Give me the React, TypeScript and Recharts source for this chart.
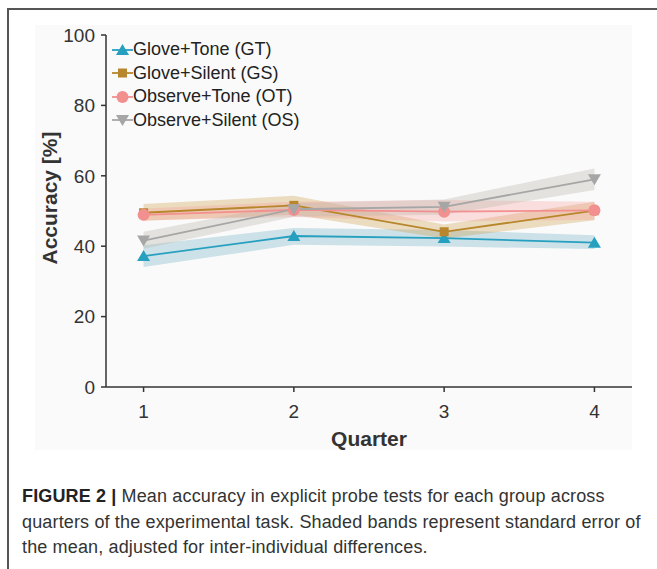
import { ComposedChart, Line, Area, XAxis, YAxis } from 'recharts';

// quarters of the task
const quarters = [1, 2, 3, 4];

// Glove+Tone (GT)
const gtMean = [37.2, 42.9, 42.3, 41.0];
const gtLow = [34.1, 40.4, 39.9, 39.2];
const gtHigh = [40.3, 45.2, 44.6, 43.1];

// Glove+Silent (GS)
const gsMean = [49.5, 51.6, 44.1, 50.1];
const gsLow = [47.2, 48.9, 42.2, 47.4];
const gsHigh = [52.0, 54.3, 46.2, 52.6];

// Observe+Tone (OT)
const otMean = [48.9, 50.3, 49.8, 50.2];
const otLow = [47.3, 48.3, 47.0, 47.5];
const otHigh = [50.7, 52.6, 53.1, 52.6];

// Observe+Silent (OS)
const osMean = [41.6, 50.5, 51.2, 59.0];
const osLow = [39.3, 48.4, 48.9, 56.0];
const osHigh = [44.1, 52.3, 53.3, 62.1];

const yTicks = [0, 20, 40, 60, 80, 100];

const groups = [
  { key: 'gt', name: 'Glove+Tone (GT)', color: '#27a0c0', band: 'rgba(40,135,170,0.22)', marker: 'up' },
  { key: 'gs', name: 'Glove+Silent (GS)', color: '#b8862c', band: 'rgba(205,160,80,0.35)', marker: 'square' },
  { key: 'ot', name: 'Observe+Tone (OT)', color: '#f28f8f', band: 'rgba(250,150,150,0.28)', marker: 'circle' },
  { key: 'os', name: 'Observe+Silent (OS)', color: '#a6a6a6', band: 'rgba(185,180,170,0.35)', marker: 'down' },
];

const data = quarters.map((q, i) => ({
  q,
  gt: gtMean[i],
  gtBand: [gtLow[i], gtHigh[i]],
  gs: gsMean[i],
  gsBand: [gsLow[i], gsHigh[i]],
  ot: otMean[i],
  otBand: [otLow[i], otHigh[i]],
  os: osMean[i],
  osBand: [osLow[i], osHigh[i]],
}));

const FONT = 'Arial, "Liberation Sans", Helvetica, sans-serif';

function Marker({ type, cx, cy, color }: { type: string; cx: number; cy: number; color: string }) {
  if (type === 'up') {
    return <polygon points={`${cx - 6.5},${cy + 5} ${cx + 6.5},${cy + 5} ${cx},${cy - 6}`} fill={color} />;
  }
  if (type === 'down') {
    return <polygon points={`${cx - 6.5},${cy - 5} ${cx + 6.5},${cy - 5} ${cx},${cy + 6}`} fill={color} />;
  }
  if (type === 'square') {
    return <rect x={cx - 4.5} y={cy - 4.5} width={9} height={9} fill={color} />;
  }
  return <circle cx={cx} cy={cy} r={6} fill={color} />;
}

function LegendBox() {
  return (
    <div style={{ position: 'absolute', left: 112, top: 38, fontFamily: FONT, fontSize: 18, color: '#222' }}>
      {groups.map((g) => (
        <div key={g.key} style={{ display: 'flex', alignItems: 'center', height: 23.5 }}>
          <svg width={21} height={16} style={{ marginRight: 0 }}>
            <line x1={0} y1={8} x2={21} y2={8} stroke={g.color} strokeWidth={1.8} />
            <Marker type={g.marker} cx={10.5} cy={8} color={g.color} />
          </svg>
          <span>{g.name}</span>
        </div>
      ))}
    </div>
  );
}

// y axis title, sitting a little above the middle of the axis like the original
function YTitle({ viewBox }: any) {
  const x = 49;
  const y = viewBox.y + viewBox.height / 2 - 13;
  return (
    <text
      x={x}
      y={y}
      transform={`rotate(-90, ${x}, ${y})`}
      textAnchor="middle"
      dominantBaseline="central"
      fill="#333"
      fontSize={21}
      fontWeight="bold"
      fontFamily={FONT}
    >
      Accuracy [%]
    </text>
  );
}

export default function App() {
  return (
    <div style={{ position: 'absolute', left: 0, top: 0, width: 657, height: 569, background: '#fff', overflow: 'hidden' }}>
      {/* figure frame */}
      <div style={{ position: 'absolute', left: 7, top: 8, right: -10, bottom: -10, borderLeft: '2px solid #555', borderTop: '2px solid #555' }} />
      {/* plot panel */}
      <div style={{ position: 'absolute', left: 35, top: 25, width: 597, height: 425, background: '#fafafa' }} />

      <div style={{ position: 'absolute', left: 0, top: 0 }}>
        <ComposedChart width={657} height={569} data={data} margin={{ top: 35, right: 25, bottom: 122, left: 46 }}>
          <XAxis
            dataKey="q"
            type="number"
            domain={[0.75, 4.25]}
            ticks={quarters}
            tickSize={5}
            tickMargin={13}
            stroke="#333"
            strokeWidth={1.5}
            tick={{ fill: '#333', fontSize: 19, fontFamily: FONT }}
            height={60}
            label={{ value: 'Quarter', position: 'insideBottom', offset: 1, fill: '#333', fontSize: 21, fontWeight: 'bold', fontFamily: FONT }}
          />
          <YAxis
            type="number"
            domain={[0, 100]}
            ticks={yTicks}
            tickSize={5}
            tickMargin={6}
            stroke="#333"
            strokeWidth={1.5}
            width={60}
            tick={{ fill: '#333', fontSize: 19, fontFamily: FONT }}
            label={<YTitle />}
          />
          {groups.map((g) => (
            <Area
              key={g.key + 'Band'}
              type="linear"
              dataKey={g.key + 'Band'}
              stroke="none"
              fill={g.band}
              fillOpacity={1}
              isAnimationActive={false}
              legendType="none"
            />
          ))}
          {groups.map((g) => (
            <Line
              key={g.key}
              type="linear"
              dataKey={g.key}
              name={g.name}
              stroke={g.color}
              strokeWidth={1.8}
              isAnimationActive={false}
              dot={(p: any) => <Marker key={`${g.key}-${p.index}`} type={g.marker} cx={p.cx} cy={p.cy} color={g.color} />}
              activeDot={false}
            />
          ))}
        </ComposedChart>
      </div>

      <LegendBox />

      <div style={{ position: 'absolute', left: 22, top: 484, width: 632, fontFamily: FONT, fontSize: 18, letterSpacing: 0.15, lineHeight: '25.5px', color: '#333' }}>
        <b style={{ color: '#222', marginRight: 5 }}>FIGURE 2 |</b>Mean accuracy in explicit probe tests for each group across quarters of the experimental task. Shaded bands represent standard error of the mean, adjusted for inter-individual differences.
      </div>
    </div>
  );
}
